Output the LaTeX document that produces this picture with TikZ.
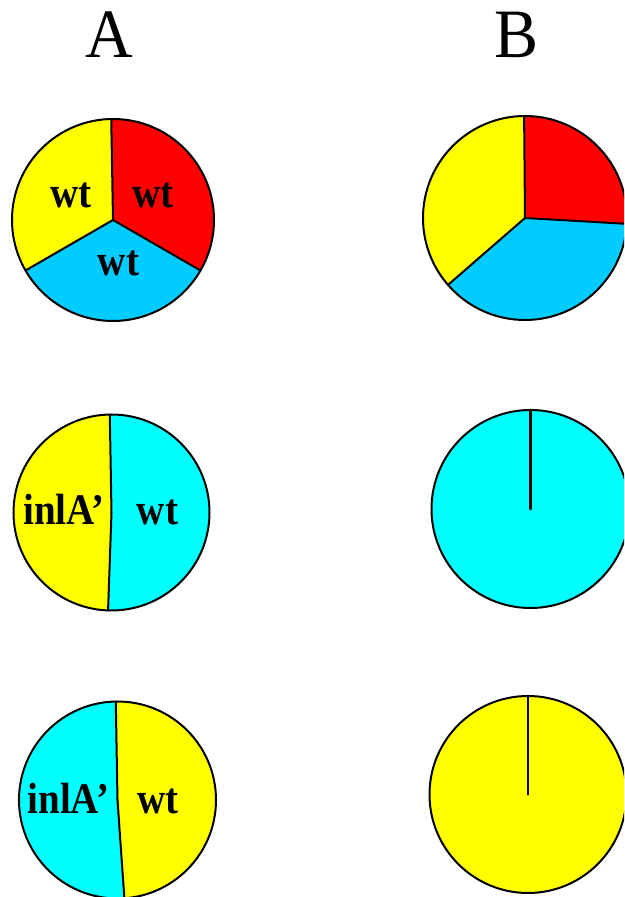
\documentclass[tikz,border=0pt]{standalone}
\usepackage{fontspec}
\usepackage{graphicx}
\setmainfont{Liberation Serif}
\definecolor{pyellow}{HTML}{FFFF00}
\definecolor{pred}{HTML}{FF0000}
\definecolor{psky}{HTML}{00CCFF}
\definecolor{pcyan}{HTML}{00FFFF}
\newcommand{\tallT}[1]{\scalebox{1}[1.12]{#1}}
\newcommand{\tallH}[1]{\scalebox{1}[1.05]{#1}}
\tikzset{
  outline/.style={draw=black,line width=2pt},
  divider/.style={draw=black,line width=2pt,line cap=round},
  thickdiv/.style={draw=black,line width=2.6pt,line cap=round},
  lbl/.style={anchor=base,inner sep=0pt,font=\fontsize{39}{42}\selectfont\bfseries},
  hdr/.style={anchor=base,inner sep=0pt,font=\fontsize{66}{70}\selectfont},
}
\begin{document}
\begin{tikzpicture}[x=1pt,y=1pt]
\useasboundingbox (0,0) rectangle (624,897);
\clip (0,0) rectangle (624,897);
% headers
\node[hdr] (hA) at (109,839) {\tallH{A}};
\node[hdr] (hB) at (517,839.5) {\tallH{B}};
% ---- A top: three equal slices
\coordinate (c1) at (113,677);
\fill[pyellow] (c1) -- ++(91:101) arc (91:210:101) -- cycle;
\fill[psky] (c1) -- ++(210:101) arc (210:330:101) -- cycle;
\fill[pred] (c1) -- ++(-30:101) arc (-30:91:101) -- cycle;
\draw[divider] (c1) -- ++(91:101);
\draw[divider] (c1) -- ++(210:101);
\draw[divider] (c1) -- ++(330:101);
\draw[outline] (c1) circle (101);
\node[lbl] (l1y) at (71,689.7) {\tallT{wt}};
\node[lbl] (l1r) at (153,689.7) {\tallT{wt}};
\node[lbl] (l1b) at (118.5,621.3) {\tallT{wt}};
% ---- B top
\coordinate (c2) at (525,679);
\fill[pyellow] (c2) -- ++(90.5:102) arc (90.5:221:102) -- cycle;
\fill[psky] (c2) -- ++(221:102) arc (221:356.7:102) -- cycle;
\fill[pred] (c2) -- ++(-3.3:102) arc (-3.3:90.5:102) -- cycle;
\draw[divider] (c2) -- ++(90.5:102);
\draw[divider] (c2) -- ++(221:102);
\draw[divider] (c2) -- ++(-3.3:102);
\draw[outline] (c2) circle (102);
% ---- A middle
\coordinate (c3) at (111.5,384.5);
\fill[pyellow] (c3) -- ++(91:98) arc (91:268:98) -- cycle;
\fill[pcyan] (c3) -- ++(268:98) arc (268:451:98) -- cycle;
\draw[divider] (c3) -- ++(91:98);
\draw[divider] (c3) -- ++(268:98);
\draw[outline] (c3) circle (98);
\node[lbl] (l3i) at (64,372) {\tallT{inlA’}};
\node[lbl] (l3w) at (157.5,372) {\tallT{wt}};
% ---- B middle
\coordinate (c4) at (530.5,388);
\fill[pcyan] (c4) circle (99);
\draw[thickdiv] (c4) -- ++(90:99);
\draw[outline] (c4) circle (99);
% ---- A bottom
\coordinate (c5) at (117.5,97);
\fill[pcyan] (c5) -- ++(91:98.5) arc (91:274:98.5) -- cycle;
\fill[pyellow] (c5) -- ++(274:98.5) arc (274:451:98.5) -- cycle;
\draw[divider] (c5) -- ++(91:98.5);
\draw[divider] (c5) -- ++(274:98.5);
\draw[outline] (c5) circle (98.5);
\node[lbl] (l5i) at (68.3,83) {\tallT{inlA’}};
\node[lbl] (l5w) at (158,83) {\tallT{wt}};
% ---- B bottom
\coordinate (c6) at (528,102.5);
\fill[pyellow] (c6) circle (98.5);
\draw[thickdiv] (c6) -- ++(90:98.5);
\draw[outline] (c6) circle (98.5);
\end{tikzpicture}
\end{document}
